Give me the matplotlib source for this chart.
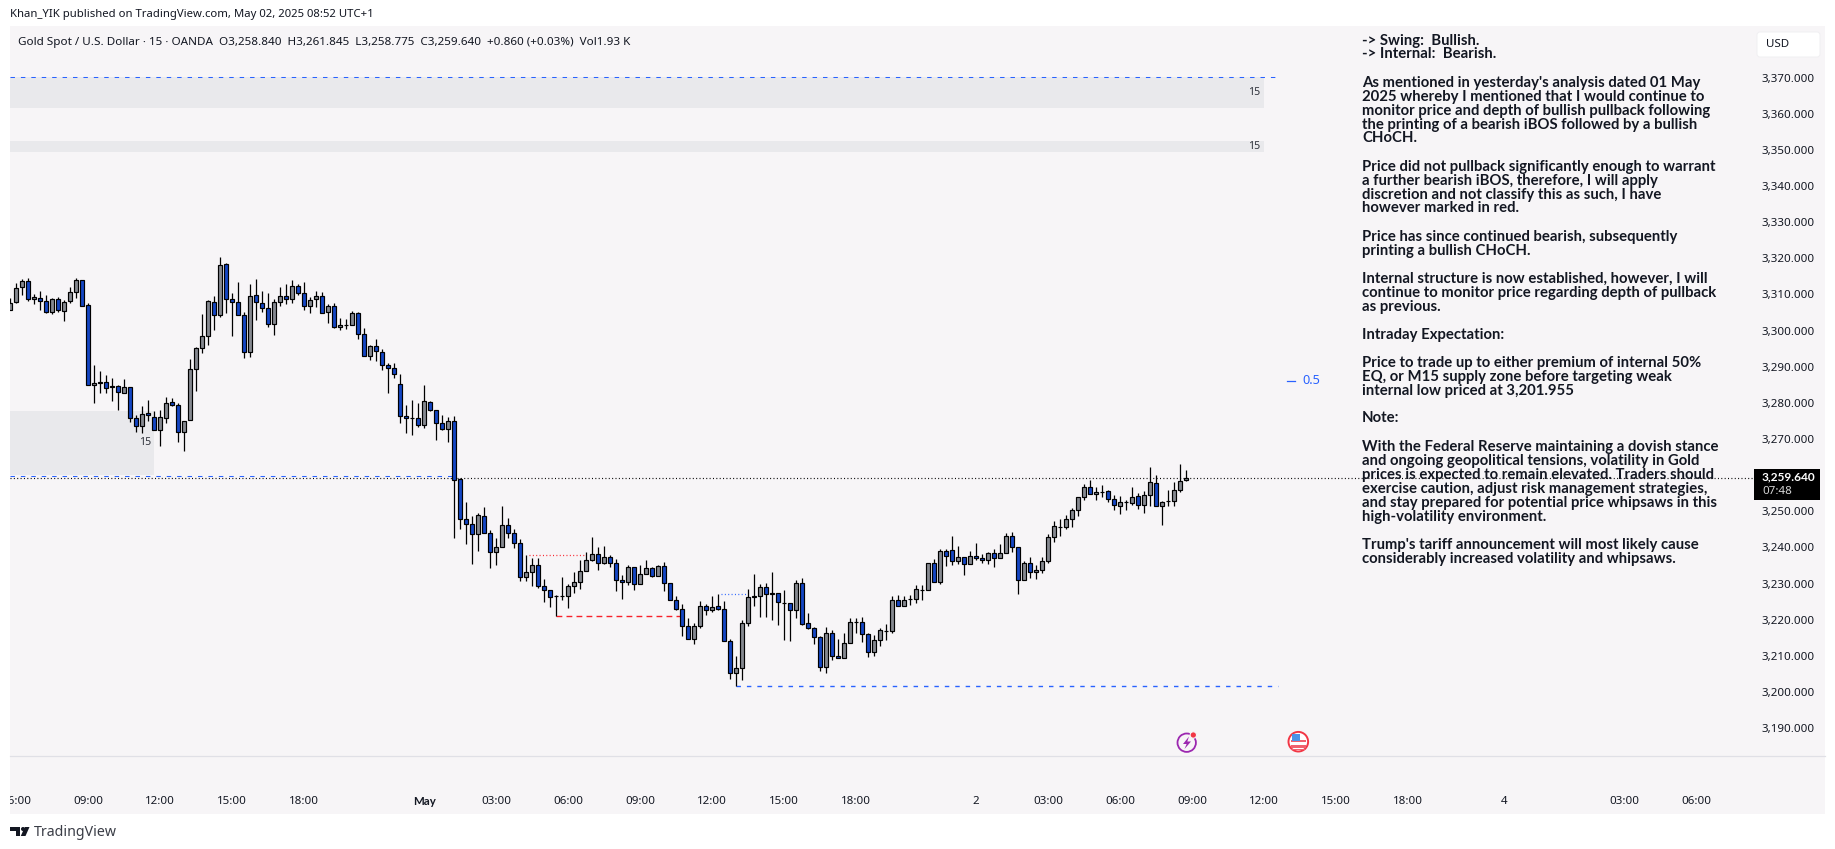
import matplotlib
matplotlib.use("Agg")
import matplotlib.pyplot as plt
from matplotlib.lines import Line2D
from matplotlib.patches import Rectangle, Circle, Polygon, FancyBboxPatch
from matplotlib.transforms import Affine2D, ScaledTranslation

W, H = 1835, 849

# ---- OHLC data (15-minute bars) ----
opens = [3306.0,3308.1,3312.3,3313.9,3309.0,3309.4,3308.4,3305.4,3309.0,3305.6,3308.4,3310.9,3314.2,3307.3,3285.2,3286.0,3286.0,3284.9,3284.9,3283.0,
3284.6,3276.0,3273.8,3277.4,3276.5,3272.7,3276.0,3280.5,3279.6,3272.3,3275.5,3289.6,3295.4,3298.7,3308.1,3304.5,3318.7,3309.0,3308.1,3304.5,
3294.3,3310.1,3307.9,3306.5,3302.0,3308.1,3309.8,3309.0,3312.6,3310.6,3307.0,3309.0,3309.8,3305.4,3307.0,3301.2,3301.8,3301.8,3305.1,3299.3,
3293.2,3296.0,3294.3,3290.7,3289.9,3285.4,3276.6,3276.0,3276.0,3274.1,3280.5,3278.2,3274.6,3273.0,3275.2,3259.1,3248.1,
3246.7,3243.9,3248.9,3244.2,3238.9,3240.3,3246.4,3244.2,3241.4,3232.0,3233.4,3235.3,3229.5,3228.4,3226.8,3226.8,3226.8,3229.5,3230.6,3233.7,
3236.7,3238.4,3235.9,3237.6,3235.9,3231.2,3230.6,3234.8,3230.1,3232.9,3234.5,3232.3,3235.1,3230.4,3225.7,3223.2,3218.5,3215.0,3218.5,3224.0,
3222.9,3224.0,3223.2,3214.3,3205.5,3206.8,3219.3,3226.8,3226.8,3229.3,3227.6,3227.6,3224.8,3224.8,3222.9,3230.4,3219.3,3217.9,3215.4,3207.1,
3216.5,3210.2,3209.6,3213.8,3219.6,3219.6,3216.2,3211.3,3214.6,3217.3,3217.1,3225.7,
3224.0,3225.9,3225.9,3228.5,3228.4,3235.9,3230.6,3239.2,3239.5,3236.5,3237.6,3235.6,3237.8,3237.3,3236.7,3238.7,3237.3,3238.7,3243.4,3240.3,
3231.2,3235.9,3233.4,3234.0,3236.5,3243.1,3246.0,3245.9,3248.1,3250.6,3254.2,3256.9,3255.0,3255.7,3255.8,3253.6,3251.7,3253.0,3252.5,3254.4,
3251.9,3254.7,3258.0,3251.7,3253.1,3253.1,3256.1,3258.84]
highs = [3309.2,3313.4,3314.5,3314.8,3310.3,3311.3,3310.2,3309.4,3309.5,3308.8,3312.5,3314.8,3314.3,3307.9,3290.8,3289.1,3288.0,3287.3,3285.3,3286.9,
3284.6,3276.9,3279.4,3281.1,3278.1,3278.3,3281.9,3281.7,3280.2,3275.4,3292.5,3295.7,3304.9,3308.7,3309.9,3320.6,3318.9,3310.8,3313.8,3305.5,
3313.2,3314.6,3311.3,3310.6,3309.1,3312.4,3313.1,3314.3,3313.1,3313.7,3309.6,3311.4,3310.9,3307.8,3308.0,3303.9,3303.4,3305.6,3305.4,3301.0,
3296.2,3298.0,3295.2,3291.2,3291.3,3288.2,3279.7,3281.1,3280.2,3285.2,3280.8,3278.2,3277.0,3276.4,3276.7,3259.4,3252.8,
3249.0,3249.7,3251.5,3245.1,3242.9,3251.8,3248.4,3245.4,3242.6,3238.2,3237.4,3237.4,3231.6,3228.4,3227.1,3232.1,3230.1,3233.5,3236.7,3239.0,
3243.2,3240.4,3240.7,3238.1,3237.0,3232.7,3235.3,3234.8,3235.3,3236.8,3234.8,3235.3,3236.2,3230.4,3226.9,3224.6,3220.8,3219.4,3225.4,3224.6,
3226.9,3227.4,3225.4,3214.9,3210.2,3220.1,3228.7,3232.9,3230.1,3230.4,3233.4,3227.7,3228.5,3224.9,3231.2,3231.7,3222.1,3218.3,3215.7,3218.3,
3217.4,3215.0,3216.6,3220.8,3220.8,3221.0,3216.5,3216.0,3217.9,3219.1,3226.9,3227.0,
3226.8,3227.1,3229.8,3229.8,3235.9,3237.0,3239.8,3239.8,3243.4,3240.6,3237.6,3239.2,3241.5,3238.4,3238.9,3239.8,3241.2,3244.2,3244.5,3240.3,
3236.5,3237.7,3235.3,3237.7,3243.9,3247.5,3248.2,3249.2,3251.1,3254.2,3257.8,3258.9,3256.9,3257.5,3256.1,3254.7,3254.4,3253.3,3256.9,3255.4,
3255.8,3262.5,3260.3,3253.1,3256.1,3258.3,3263.4,3261.845]
lows = [3306.0,3307.9,3310.2,3308.6,3307.7,3306.0,3305.3,3305.0,3305.5,3303.1,3307.9,3309.2,3307.0,3285.3,3280.4,3283.1,3283.1,3280.9,3278.3,3283.0,
3275.1,3272.3,3272.1,3275.4,3272.7,3268.5,3274.6,3279.3,3269.6,3267.1,3275.5,3283.7,3294.2,3296.4,3300.6,3304.2,3305.3,3298.9,3304.5,3292.8,
3293.1,3303.2,3305.5,3301.4,3299.2,3307.2,3307.7,3307.9,3310.1,3306.0,3305.2,3306.9,3305.1,3302.5,3300.9,3300.5,3300.7,3301.8,3298.1,3293.2,
3292.3,3291.9,3289.5,3283.1,3287.3,3274.6,3272.1,3271.5,3273.7,3273.4,3278.1,3269.9,3272.7,3269.6,3243.0,3245.5,3241.3,
3235.7,3239.3,3244.2,3234.6,3235.4,3240.3,3243.0,3240.0,3231.1,3231.1,3229.6,3229.2,3225.3,3223.9,3221.2,3225.7,3223.6,3227.8,3228.9,3233.7,
3236.4,3234.1,3235.6,3235.0,3228.2,3226.1,3229.8,3228.6,3230.1,3232.9,3232.2,3232.3,3228.3,3225.7,3223.0,3215.9,3214.9,3213.7,3218.1,3221.7,
3222.5,3222.9,3214.3,3203.8,3201.955,3203.7,3218.6,3224.2,3221.1,3221.1,3220.3,3218.9,3214.8,3214.5,3220.8,3218.7,3217.6,3213.7,3206.2,3205.5,
3209.0,3209.6,3209.6,3213.8,3216.5,3214.1,3210.0,3210.3,3213.1,3214.8,3216.5,3224.0,
3224.0,3224.4,3225.0,3225.7,3228.4,3230.6,3230.3,3235.2,3235.4,3235.7,3232.7,3235.6,3236.8,3236.1,3235.7,3234.9,3237.3,3238.7,3239.0,3227.4,
3231.2,3231.8,3231.6,3233.3,3236.0,3241.8,3243.5,3245.5,3246.0,3249.0,3253.4,3255.0,3253.4,3254.3,3253.0,3250.7,3249.6,3250.7,3252.1,3250.9,
3249.8,3251.8,3251.7,3246.5,3251.8,3251.8,3255.7,3258.775]
closes = [3307.9,3312.2,3313.9,3309.0,3309.5,3308.4,3305.4,3309.0,3306.0,3308.3,3310.9,3314.2,3307.0,3285.3,3285.7,3285.9,3284.3,3284.6,3283.2,3284.6,
3276.0,3273.8,3277.3,3276.9,3272.7,3276.3,3280.4,3279.6,3272.3,3275.4,3289.6,3295.4,3298.7,3308.4,3304.5,3318.4,3309.0,3308.1,3304.5,3294.3,
3309.8,3308.1,3306.5,3302.0,3308.1,3309.8,3309.0,3312.6,3310.6,3307.0,3308.7,3309.8,3305.1,3307.0,3301.2,3301.8,3301.8,3305.1,3299.3,3293.2,
3296.0,3294.6,3290.7,3289.9,3288.2,3276.6,3276.0,3276.0,3274.1,3280.7,3278.2,3274.6,3273.0,3275.2,3258.9,3248.1,3246.7,
3243.9,3249.2,3244.2,3238.9,3240.3,3246.4,3244.2,3241.4,3232.0,3233.4,3235.3,3229.5,3228.4,3226.5,3226.8,3226.8,3229.5,3230.6,3233.7,3236.7,
3238.4,3235.9,3237.6,3235.9,3231.2,3230.6,3234.8,3230.1,3232.9,3234.5,3232.3,3235.1,3230.4,3225.7,3223.2,3218.5,3215.0,3218.5,3224.0,3222.9,
3223.7,3223.2,3214.3,3205.5,3206.8,3219.3,3226.5,3226.5,3229.3,3227.3,3227.3,3225.1,3224.8,3222.9,3230.4,3219.0,3217.9,3215.4,3207.1,3216.5,
3210.2,3209.6,3213.8,3219.6,3219.6,3216.2,3211.3,3214.6,3217.4,3217.3,3225.7,3224.0,
3225.7,3225.9,3228.7,3228.5,3235.9,3230.6,3239.2,3238.0,3236.5,3237.6,3235.8,3237.8,3237.3,3236.7,3238.7,3237.3,3238.7,3243.4,3240.3,3231.2,
3235.9,3233.4,3234.0,3236.5,3243.1,3246.1,3246.0,3248.1,3250.6,3254.2,3256.9,3255.0,3255.5,3255.7,3253.6,3251.9,3252.8,3253.0,3254.2,3251.9,
3254.7,3258.3,3251.7,3252.8,3253.1,3256.1,3258.6,3259.64]

# ---- axis contents ----
price_ticks = [3370,3360,3350,3340,3330,3320,3310,3300,3290,3280,3270,3250,3240,3230,3220,3210,3200,3190]
time_bars   = [1,13,25,37,49,69,81,93,105,117,129,141,161,173,185,197,209,221,233,249,269,281]
time_labels = ["06:00","09:00","12:00","15:00","18:00","May","03:00","06:00","09:00","12:00","15:00","18:00",
               "2","03:00","06:00","09:00","12:00","15:00","18:00","4","03:00","06:00"]

# ---- price levels and zones ----
last_price = 3259.64
swing_high = 3370.4
weak_low = 3201.955
zone_a = (3362.0, 3370.4)
zone_b = (3349.7, 3352.8)
zone_c = (3260.3, 3278.1)
liq_level = 3260.1
ibos_level = 3221.2
ibos_dotted = 3238.1
choch_dotted = 3227.3
eq_level = 3286.4

note_lines = [
"-> Swing:  Bullish.","-> Internal:  Bearish.","",
"As mentioned in yesterday's analysis dated 01 May","2025 whereby I mentioned that I would continue to",
"monitor price and depth of bullish pullback following","the printing of a bearish iBOS followed by a bullish","CHoCH.","",
"Price did not pullback significantly enough to warrant","a further bearish iBOS, therefore, I will apply",
"discretion and not classify this as such, I have","however marked in red.","",
"Price has since continued bearish, subsequently","printing a bullish CHoCH.","",
"Internal structure is now established, however, I will","continue to monitor price regarding depth of pullback","as previous.","",
"Intraday Expectation:","",
"Price to trade up to either premium of internal 50%","EQ, or M15 supply zone before targeting weak","internal low priced at 3,201.955","",
"Note:","",
"With the Federal Reserve maintaining a dovish stance","and ongoing geopolitical tensions, volatility in Gold",
"prices is expected to remain elevated. Traders should","exercise caution, adjust risk management strategies,",
"and stay prepared for potential price whipsaws in this","high-volatility environment.","",
"Trump's tariff announcement will most likely cause","considerably increased volatility and whipsaws."]

# ---- styles ----
plt.rcParams['font.family'] = ['Noto Sans', 'DejaVu Sans']
plt.rcParams['lines.scale_dashes'] = False
PANEL = '#f7f5f7'; ZONE = '#e9e9ec'; UP = '#868990'; DOWN = '#1446c4'; BLUE = '#2962ff'; RED = '#f7202a'; INK = '#131722'
BOLD = ['Lato', 'DejaVu Sans']

fig = plt.figure(figsize=(W/100, H/100), dpi=100, facecolor='white')
PX = Affine2D().scale(1, -1).translate(0, H)  # reference pixels, y down
panel = Rectangle((10, 26), 1815, 788, transform=PX, facecolor=PANEL, edgecolor='none', zorder=0)
fig.add_artist(panel)
fig.add_artist(Line2D([10, 1825], [755.7, 755.7], transform=PX, color='#e0e0e6', lw=0.9, zorder=1))

ax = fig.add_axes([10/W, 1-755.7/H, 1745/W, (755.7-26)/H])
ax.patch.set_alpha(0)
ax.set_xlim(-0.05, 290.8)
ax.set_ylim(3182.65, 3384.61)
for s in ax.spines.values():
    s.set_visible(False)

# zones
for (lo, hi), end in [(zone_a, 209), (zone_b, 209), (zone_c, 24)]:
    ax.add_patch(Rectangle((-0.05, lo), end + 0.05, hi - lo, facecolor=ZONE, edgecolor='none', zorder=1))
for y, x in [(sum(zone_a)/2, 208.4), (sum(zone_b)/2, 208.4), (3269.2, 23.4)]:
    ax.text(x, y, "15", ha='right', va='center', fontsize=7.6, color='#30333c', zorder=2)

# levels
blue_dash = (0, (3.2, 4.3)); red_dash = (0, (4.2, 3.0)); dot = (0, (0.72, 1.7))
ax.plot([-0.05, 210.9], [swing_high]*2, color=BLUE, lw=0.75, ls=blue_dash, zorder=2)
ax.plot([-0.05, 74], [liq_level]*2, color=BLUE, lw=0.75, ls=blue_dash, zorder=2)
ax.plot([121, 211.3], [weak_low]*2, color=BLUE, lw=1.0, ls=blue_dash, zorder=2)
ax.plot([91, 111.6], [ibos_level]*2, color=RED, lw=1.0, ls=red_dash, zorder=2)
ax.plot([86.4, 96], [ibos_dotted]*2, color=RED, lw=0.9, ls=dot, zorder=2)
ax.plot([118.4, 122.7], [choch_dotted]*2, color=BLUE, lw=0.9, ls=dot, zorder=2)
ax.plot([-0.05, 290.8], [last_price]*2, color='black', lw=0.85, ls=dot, zorder=2)
ax.plot([212.8, 214.1], [eq_level]*2, color=BLUE, lw=0.9, zorder=2)
ax.text(215.4, eq_level, "0.5", ha='left', va='center', fontsize=9.2, color=BLUE, zorder=2)

# candles
idx = list(range(len(opens)))
ax.vlines(idx, lows, highs, color='black', lw=0.9, zorder=3)
cols = [UP if c >= o else DOWN for o, c in zip(opens, closes)]
ax.bar(idx, [abs(c-o) for o, c in zip(opens, closes)], bottom=[min(o, c) for o, c in zip(opens, closes)],
       width=0.65, color=cols, edgecolor='black', linewidth=0.85, zorder=4)

# axes labels
ax.yaxis.tick_right()
ax.set_yticks(price_ticks)
ax.set_yticklabels([f"{p:,.3f}" for p in price_ticks])
ax.tick_params(axis='y', length=0, pad=5, labelsize=8.3, labelcolor=INK)
up_1px = ScaledTranslation(0, 1.1/100, fig.dpi_scale_trans)
for lb in ax.get_yticklabels():
    lb.set_transform(lb.get_transform() + up_1px)
ax.set_xticks(time_bars)
ax.set_xticklabels(time_labels)
ax.tick_params(axis='x', length=0, pad=28.7, labelsize=8.3, labelcolor=INK)
for lb in ax.get_xticklabels():
    lb.set_clip_on(True)
    lb.set_clip_path(panel)
    if lb.get_text() == 'May':
        lb.set_family(BOLD)
        lb.set_fontweight('bold')

# page furniture, placed in reference pixels
def ptext(x, y, s, **kw):
    kw.setdefault('va', 'center'); kw.setdefault('ha', 'left'); kw.setdefault('color', INK)
    return fig.text(x, y, s, transform=PX, **kw)

ptext(10, 15, "Khan_YIK published on TradingView.com, May 02, 2025 08:52 UTC+1", fontsize=8.15)
ptext(18, 42, "Gold Spot / U.S. Dollar · 15 · OANDA  O3,258.840  H3,261.845  L3,258.775  C3,259.640  +0.860 (+0.03%)  Vol1.93 K", fontsize=8.4)
for i, line in enumerate(note_lines):
    if line:
        ptext(1362, 40.5 + 14*i, line, fontsize=10.7, fontweight='bold', family=BOLD, color='#131722', zorder=6)

fig.add_artist(FancyBboxPatch((1757, 32), 63, 25, boxstyle='round,pad=0,rounding_size=3', transform=PX, fc='white', ec='#f0eff2', lw=0.7, zorder=5))
ptext(1766, 44.7, "USD", fontsize=8.3, zorder=6)
fig.add_artist(Rectangle((1754, 469), 66, 31, transform=PX, fc='black', ec='none', zorder=5))
ptext(1762, 477, f"{last_price:,.3f}", fontsize=8.6, color='white', fontweight='bold', family=BOLD, zorder=6)
ptext(1762, 491, "07:48", fontsize=8.3, color='#d6d6d6', zorder=6)

# event icons
fig.add_artist(Circle((1186.7, 742.7), 9.2, transform=PX, fc=PANEL, ec='#9c27b0', lw=1.3, zorder=5))
fig.add_artist(Polygon([(1189, 736.5), (1183, 744), (1186.6, 744), (1184.5, 749), (1191, 741.5), (1187.3, 741.5)], transform=PX, fc='#9c27b0', ec='none', zorder=6))
fig.add_artist(Circle((1193.3, 735), 3.2, transform=PX, fc='#f23645', ec=PANEL, lw=0.8, zorder=6))
fig.add_artist(Circle((1298.3, 741.7), 9.8, transform=PX, fc='white', ec='#f23645', lw=1.4, zorder=5))
for y0, h0 in [(739.5, 2.8), (745, 2.8), (749, 1.2)]:
    fig.add_artist(Rectangle((1291, y0), 14.5, h0, transform=PX, fc='#f0616d', ec='none', zorder=6))
fig.add_artist(Rectangle((1291.5, 734), 8.5, 6.5, transform=PX, fc='#4a94e8', ec='none', zorder=6))

# footer logo and wordmark
fig.add_artist(Polygon([(10, 827), (20, 827), (20, 836), (15.5, 836), (15.5, 831), (10, 831)], transform=PX, fc='#131722', ec='none'))
fig.add_artist(Circle((23, 829), 2, transform=PX, fc='#131722', ec='none'))
fig.add_artist(Polygon([(29.5, 827), (25.5, 836), (20.8, 836), (24.8, 827)], transform=PX, fc='#131722', ec='none'))
ptext(34, 832, "TradingView", fontsize=10.2, color='#3a3d46')

fig.savefig('out.png', dpi=100, facecolor='white')
